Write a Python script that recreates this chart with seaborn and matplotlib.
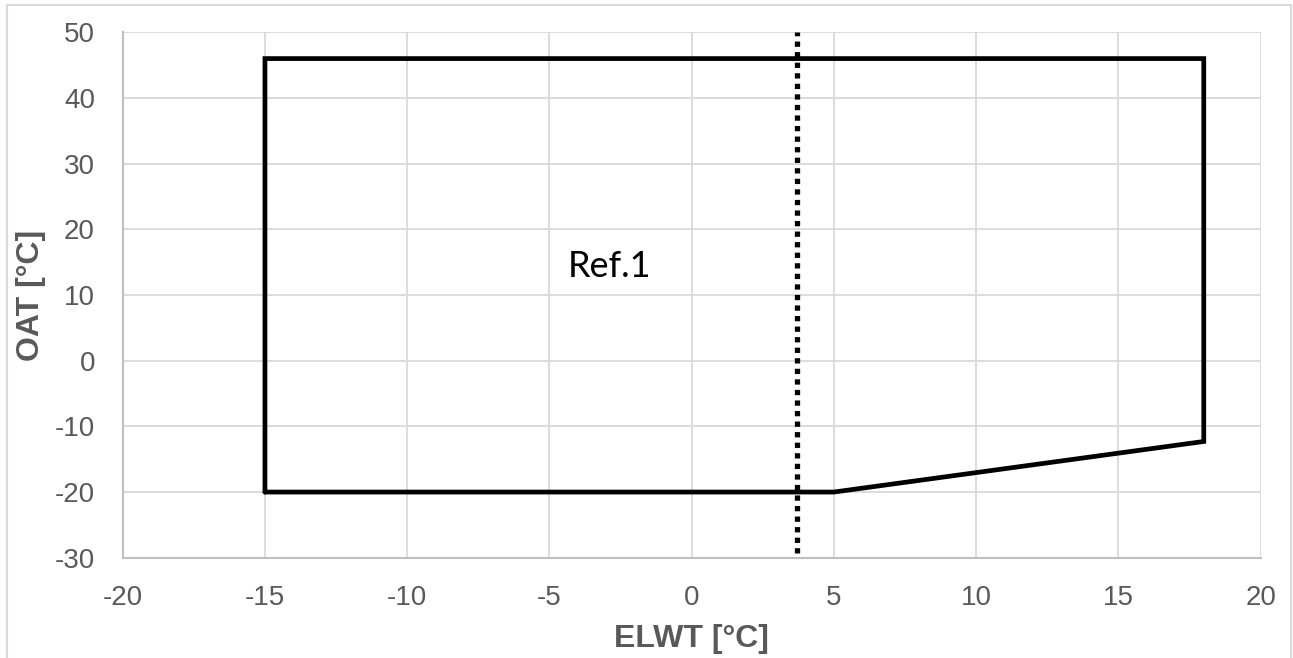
import matplotlib
matplotlib.use("Agg")
import matplotlib.pyplot as plt
from matplotlib.patches import Rectangle
import seaborn as sns
import pandas as pd

# Operating envelope outline (ELWT vs OAT), closed polygon
envelope_elwt = [-15, -15, 18, 18, 5, -15]
envelope_oat = [-20, 46, 46, -12.3, -20, -20]

# Reference ELWT limit (dotted vertical)
limit_elwt = [3.7, 3.7]
limit_oat = [-29.3, 50]

region_label = "Ref.1"
region_label_pos = (-2.9, 14.4)

x_ticks = [-20, -15, -10, -5, 0, 5, 10, 15, 20]
y_ticks = [-30, -20, -10, 0, 10, 20, 30, 40, 50]

sns.set_theme(style="white")
plt.rcParams["font.family"] = ["Liberation Sans", "DejaVu Sans"]
plt.rcParams["axes.unicode_minus"] = False

fig = plt.figure(figsize=(12.93, 6.58), dpi=100)
ax = fig.add_axes([0.0949, 0.1524, 0.975 - 0.0949, 0.9509 - 0.1524])

# Outer chart frame
fig.patches.append(Rectangle((7 / 1293, -0.05), (1291 - 7) / 1293, 1.05 - 5 / 658,
                             transform=fig.transFigure, fill=False,
                             edgecolor="#d9d9d9", linewidth=1.5))

env = pd.DataFrame({"ELWT": envelope_elwt, "OAT": envelope_oat})
sns.lineplot(data=env, x="ELWT", y="OAT", sort=False, estimator=None,
             color="black", linewidth=3.4, ax=ax)
ax.lines[-1].set_solid_joinstyle("miter")

lim = pd.DataFrame({"ELWT": limit_elwt, "OAT": limit_oat})
sns.lineplot(data=lim, x="ELWT", y="OAT", sort=False, estimator=None,
             color="black", linewidth=3.8, ax=ax)
ax.lines[-1].set_linestyle((0, (1, 1)))
ax.lines[-1].set_dash_capstyle("butt")

ax.text(region_label_pos[0], region_label_pos[1], region_label,
        ha="center", va="center", fontsize=26, color="black",
        family=["Lato", "DejaVu Sans"])

ax.set_xlim(-20, 20)
ax.set_ylim(-30, 50)
ax.set_xticks(x_ticks)
ax.set_yticks(y_ticks)
ax.grid(True, color="#d9d9d9", linewidth=1.3)
ax.set_axisbelow(True)

for side in ["top", "right"]:
    ax.spines[side].set_visible(False)
for side in ["left", "bottom"]:
    ax.spines[side].set_color("#bfbfbf")
    ax.spines[side].set_linewidth(1.5)

ax.tick_params(axis="both", length=0, labelsize=20, labelcolor="#595959")
ax.tick_params(axis="x", pad=20)
ax.tick_params(axis="y", pad=20)

ax.set_xlabel("ELWT [°C]", fontsize=23, fontweight="bold", color="#595959", labelpad=9)
ax.set_ylabel("OAT [°C]", fontsize=23, fontweight="bold", color="#595959", labelpad=6)

fig.savefig("out.png", dpi=100)
